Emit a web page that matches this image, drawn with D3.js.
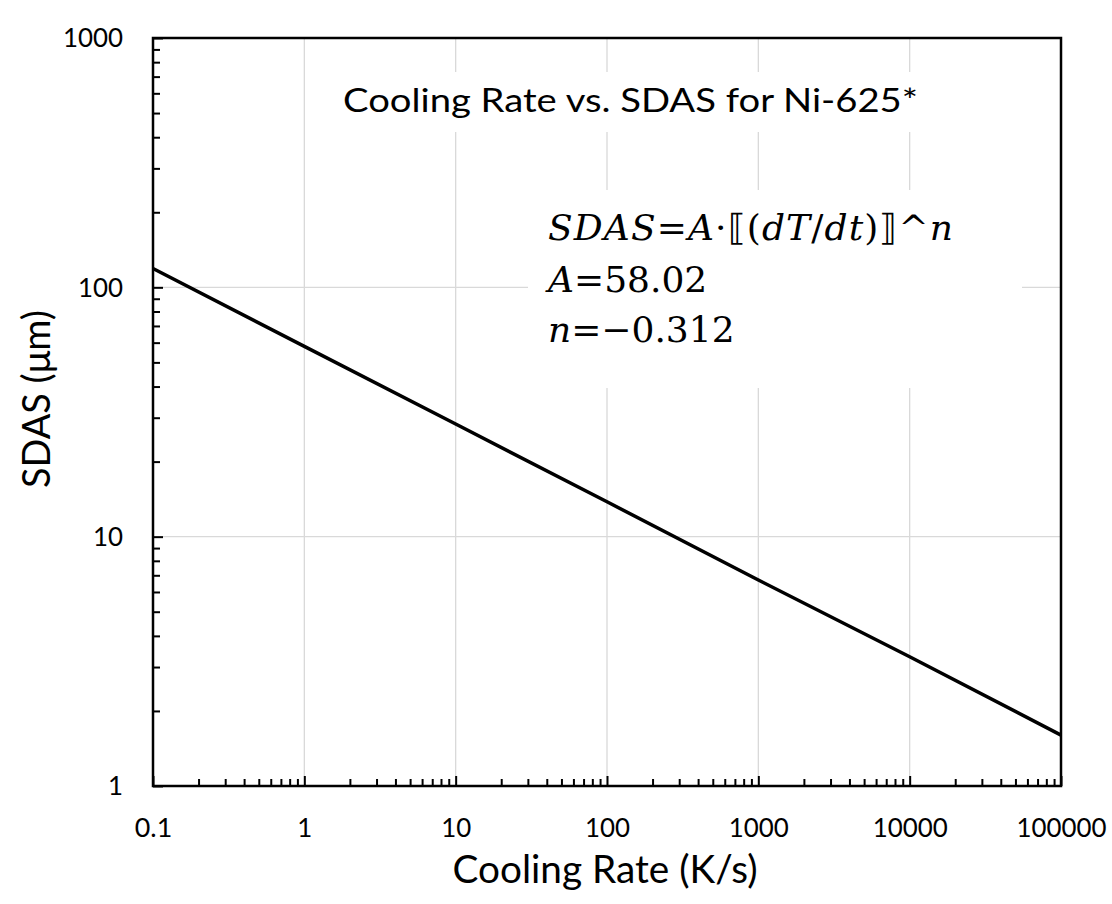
<!DOCTYPE html>
<html>
<head>
<meta charset="utf-8">
<script src="https://cdn.jsdelivr.net/npm/d3@7"></script>
<style>
  body { margin: 0; background: #fff; }
  text { font-family: Lato, "Open Sans", sans-serif; fill: #000; }
  .eq text { font-family: "DejaVu Serif", serif; }
</style>
</head>
<body>
<div class="chart"></div>
<script>
// values
var coolingRate = [0.1, 1, 10, 100, 1000, 10000, 100000];
var sdas = [119, 58, 28.3, 13.8, 6.7, 3.3, 1.6];

var xTickValues = [0.1, 1, 10, 100, 1000, 10000, 100000];
var xTickLabels = ["0.1", "1", "10", "100", "1000", "10000", "100000"];
var yTickValues = [1, 10, 100, 1000];
var yTickLabels = ["1", "10", "100", "1000"];

var chartTitle = "Cooling Rate vs. SDAS for Ni-625*";
var xTitle = "Cooling Rate (K/s)";
var yTitle = "SDAS (\u03bcm)";

var svgWidth = 1112;
var svgHeight = 904;
var margin = { top: 38, right: 51, bottom: 118, left: 153 };
var width = svgWidth - margin.left - margin.right;
var height = svgHeight - margin.top - margin.bottom;

// scale a text's font size so it is as wide as in the reference
function fitWidth(sel, target) {
  var w = sel.node().getComputedTextLength();
  var fs = parseFloat(sel.style("font-size"));
  var size = fs * target / w;
  sel.style("font-size", size + "px");
  return size;
}

var svg = d3.select(".chart")
  .append("svg")
  .attr("width", svgWidth)
  .attr("height", svgHeight);

var chartGroup = svg.append("g")
  .attr("transform", `translate(${margin.left}, ${margin.top})`);

var x = d3.scaleLog().domain([0.1, 100000]).range([0, width]);
var y = d3.scaleLog().domain([1, 1000]).range([height, 0]);

// gridlines
chartGroup.append("g")
  .selectAll("line")
  .data(xTickValues.slice(1, -1))
  .enter().append("line")
  .attr("x1", d => x(d)).attr("x2", d => x(d))
  .attr("y1", 0).attr("y2", height)
  .attr("stroke", "#d9d9d9").attr("stroke-width", 1.3);

chartGroup.append("g")
  .selectAll("line")
  .data(yTickValues.slice(1, -1))
  .enter().append("line")
  .attr("x1", 0).attr("x2", width)
  .attr("y1", d => y(d)).attr("y2", d => y(d))
  .attr("stroke", "#d9d9d9").attr("stroke-width", 1.3);

// series line
var line = d3.line()
  .x(d => x(d[0]))
  .y(d => y(d[1]));

chartGroup.append("path")
  .datum(coolingRate.map((c, i) => [c, sdas[i]]))
  .attr("d", line)
  .attr("fill", "none")
  .attr("stroke", "#000")
  .attr("stroke-width", 3.5);

// white boxes behind the title and the equation (they hide the gridlines)
svg.append("rect").attr("fill", "#fff")
  .attr("x", 330).attr("y", 72).attr("width", 605).attr("height", 60);
svg.append("rect").attr("fill", "#fff")
  .attr("x", 528).attr("y", 190).attr("width", 494).attr("height", 198);

var title = svg.append("text")
  .attr("x", 343)
  .attr("y", 112)
  .style("font-size", "33px")
  .attr("textLength", 575)
  .attr("lengthAdjust", "spacingAndGlyphs")
  .text(chartTitle);

var eq = svg.append("g").attr("class", "eq").style("font-size", "36px");
var eqLines = [
  [["SDAS", true], ["=", false], ["A", true], ["\u00b7\u27e6(", false], ["dT", true], ["/", false], ["dt", true], [")\u27e7^", false], ["n", true]],
  [["A", true], ["=58.02", false]],
  [["n", true], ["=\u22120.312", false]]
];
var eqBaselines = [240, 292, 342];
var eqTexts = eqLines.map(function (parts, i) {
  var t = eq.append("text").attr("x", 548).attr("y", eqBaselines[i]);
  parts.forEach(function (p) {
    t.append("tspan").style("font-style", p[1] ? "italic" : "normal").text(p[0]);
  });
  return t;
});
var w2 = eqTexts[1].node().getComputedTextLength();
var w3 = eqTexts[2].node().getComputedTextLength();
eq.style("font-size", (36 * (158 + 188) / (w2 + w3)) + "px");
// first line is a little wider in the reference font
eqTexts[0].attr("textLength", 405).attr("lengthAdjust", "spacing");

// minor ticks
var xMinor = x.ticks().filter(d => xTickValues.indexOf(d) < 0);
var yMinor = y.ticks().filter(d => yTickValues.indexOf(d) < 0);

chartGroup.append("g")
  .attr("transform", `translate(0, ${height})`)
  .call(d3.axisBottom(x).tickValues(xMinor).tickFormat("").tickSizeInner(-7).tickSizeOuter(0))
  .call(g => g.select(".domain").remove())
  .selectAll("line").attr("stroke-width", 2);

chartGroup.append("g")
  .call(d3.axisLeft(y).tickValues(yMinor).tickFormat("").tickSizeInner(-7).tickSizeOuter(0))
  .call(g => g.select(".domain").remove())
  .selectAll("line").attr("stroke-width", 2);

// major ticks + labels
var bottomAxis = d3.axisBottom(x)
  .tickValues(xTickValues)
  .tickFormat((d, i) => xTickLabels[i])
  .tickSizeInner(-10).tickSizeOuter(0).tickPadding(0);
var leftAxis = d3.axisLeft(y)
  .tickValues(yTickValues)
  .tickFormat((d, i) => yTickLabels[i])
  .tickSizeInner(-10).tickSizeOuter(0).tickPadding(30);

var xAxisG = chartGroup.append("g")
  .attr("transform", `translate(0, ${height})`)
  .call(bottomAxis);
var yAxisG = chartGroup.append("g")
  .call(leftAxis);

[xAxisG, yAxisG].forEach(function (g) {
  g.select(".domain").remove();
  g.selectAll("line").attr("stroke-width", 2);
  g.selectAll("text")
    .style("font-family", "Lato, sans-serif")
    .style("font-size", "27.5px")
    .attr("fill", "#000");
});
// reference digits are narrower: squeeze each label to about 15px per digit
[xAxisG, yAxisG].forEach(function (g) {
  g.selectAll("text").each(function () {
    var s = d3.select(this);
    var label = s.text();
    var digits = label.replace(".", "").length;
    var w = digits * 15 + (label.indexOf(".") >= 0 ? 7.5 : 0);
    s.attr("textLength", w).attr("lengthAdjust", "spacingAndGlyphs");
  });
});
xAxisG.selectAll("text").attr("dy", null).attr("y", 837 - margin.top - height);

// plot frame
chartGroup.append("rect")
  .attr("width", width).attr("height", height)
  .attr("fill", "none").attr("stroke", "#000").attr("stroke-width", 2.5);

// axis titles
svg.append("text")
  .attr("x", 605)
  .attr("y", 883)
  .attr("text-anchor", "middle")
  .style("font-size", "38px")
  .attr("textLength", 305)
  .attr("lengthAdjust", "spacingAndGlyphs")
  .text(xTitle);

svg.append("text")
  .attr("transform", "translate(50, 399) rotate(-90)")
  .attr("text-anchor", "middle")
  .style("font-size", "38px")
  .attr("textLength", 178)
  .attr("lengthAdjust", "spacingAndGlyphs")
  .text(yTitle);
</script>
</body>
</html>
